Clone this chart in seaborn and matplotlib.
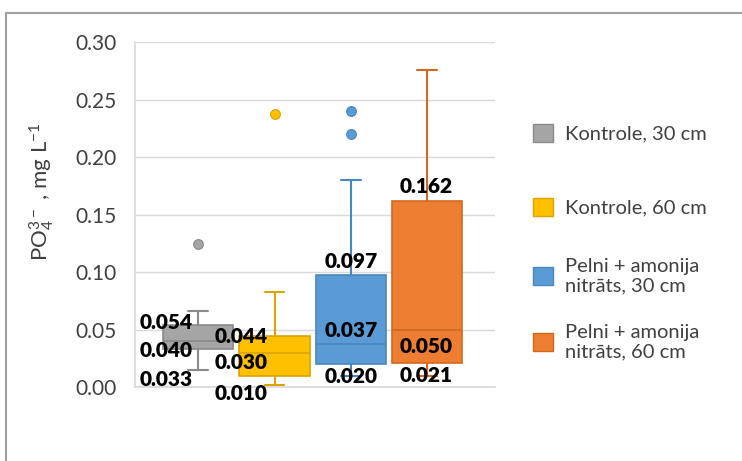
import matplotlib
matplotlib.use("Agg")
import matplotlib.pyplot as plt
from matplotlib.patches import Patch, Rectangle
import seaborn as sns

# box summary values
series = ["Kontrole, 30 cm", "Kontrole, 60 cm",
          "Pelni + amonija\nnitrāts, 30 cm", "Pelni + amonija\nnitrāts, 60 cm"]
q1 = [0.033, 0.010, 0.020, 0.021]
median = [0.040, 0.030, 0.037, 0.050]
q3 = [0.054, 0.044, 0.097, 0.162]
whisker_low = [0.015, 0.002, 0.010, 0.010]
whisker_high = [0.066, 0.083, 0.180, 0.276]
outliers = [[0.124], [0.237], [0.240, 0.220], []]
y_ticks = [0.00, 0.05, 0.10, 0.15, 0.20, 0.25, 0.30]

colors = ["#A5A5A5", "#FFC000", "#5B9BD5", "#ED7D31"]
edges = ["#8A8A8A", "#D9A300", "#4A86BF", "#D2691F"]

# label offsets in points (dx, dy) for q3, median, q1
label_offsets = [
    [(-23, 2), (-23, -7), (-23, -22)],
    [(-24, 0), (-24, -7), (-24, -13)],
    [(0, 10), (0, 10), (0, -9)],
    [(-1, 10), (-1, -12), (-1, -9)],
]

sns.set_theme(style="whitegrid")
plt.rcParams["font.family"] = ["Lato", "DejaVu Sans"]
plt.rcParams["mathtext.default"] = "regular"

fig = plt.figure(figsize=(7.42, 4.61), dpi=100)
ax = fig.add_axes([135 / 742, 1 - 387 / 461, 360 / 742, 345 / 461])

stats = []
for i in range(len(series)):
    stats.append(dict(q1=q1[i], med=median[i], q3=q3[i],
                      whislo=whisker_low[i], whishi=whisker_high[i],
                      fliers=outliers[i], label=series[i]))

bp = ax.bxp(stats, positions=range(4), widths=0.92, patch_artist=True,
            showfliers=True, capwidths=0.26)

for i in range(4):
    bp["boxes"][i].set(facecolor=colors[i], edgecolor=edges[i], linewidth=1.2, zorder=3)
    bp["medians"][i].set(color=edges[i], linewidth=1.2, zorder=4)
    for w in bp["whiskers"][2 * i:2 * i + 2]:
        w.set(color=edges[i], linewidth=1.5, zorder=2)
    for c in bp["caps"][2 * i:2 * i + 2]:
        c.set(color=edges[i], linewidth=1.5, zorder=2)
    bp["fliers"][i].set(marker="o", markersize=7, markerfacecolor=colors[i],
                        markeredgecolor=edges[i], markeredgewidth=0.8, zorder=3)

# data labels
for i in range(4):
    for j, v in enumerate([q3[i], median[i], q1[i]]):
        dx, dy = label_offsets[i][j]
        ax.annotate(f"{v:.3f}", xy=(i, v), xytext=(dx, dy), textcoords="offset points",
                    ha="center", va="center", fontsize=15, fontweight="heavy",
                    color="black", zorder=6)

ax.set_xlim(-0.83, 3.89)
ax.set_ylim(0, 0.30)
ax.set_xticks([])
ax.set_yticks(y_ticks)
ax.set_yticklabels([f"{t:.2f}" for t in y_ticks])
ax.tick_params(axis="y", length=0, pad=13, labelsize=15, labelcolor="#404040")
ax.grid(axis="y", color="#D9D9D9", linewidth=1)
ax.grid(axis="x", visible=False)
sns.despine(ax=ax)
ax.spines["left"].set_color("#D9D9D9")
ax.spines["bottom"].set_color("#D9D9D9")
ax.set_axisbelow(True)

ax.set_ylabel(r"PO$_4^{3-}$ , mg L$^{-1}$", fontsize=16, color="#404040")
ax.yaxis.set_label_coords(-0.22, 0.565)

# legend entries, one per row as in the reference
centers = [133, 207, 276, 342]
for i in range(4):
    fig.legend(handles=[Patch(facecolor=colors[i], edgecolor=edges[i], label=series[i])],
               loc="center left", bbox_to_anchor=(533 / 742, 1 - centers[i] / 461),
               frameon=False, fontsize=14.5, handlelength=1.0, handleheight=1.0,
               handletextpad=0.6, borderpad=0, borderaxespad=0, labelcolor="#404040")

# chart area border
fig.patches.append(Rectangle((6 / 742, -0.1), 1.1, 0.1 + 1 - 13 / 461,
                             transform=fig.transFigure, fill=False,
                             edgecolor="#A0A0A0", linewidth=1.5))

fig.savefig("out.png", dpi=100)
